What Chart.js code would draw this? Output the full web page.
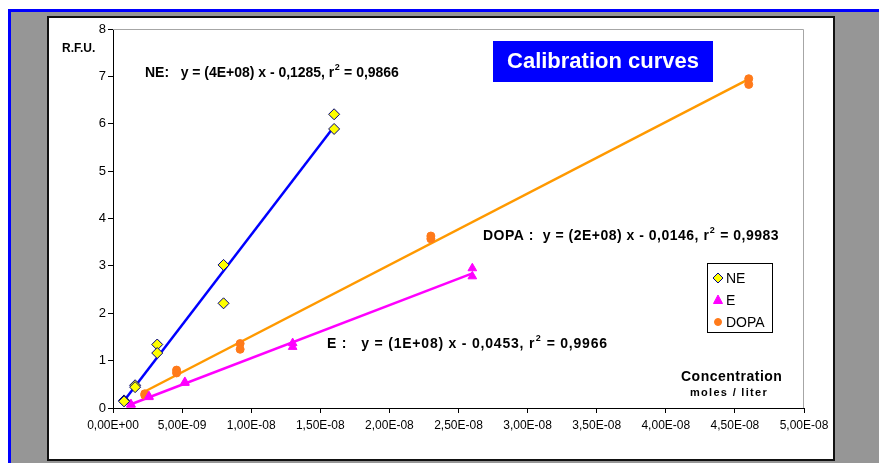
<!DOCTYPE html>
<html>
<head>
<meta charset="utf-8">
<script src="https://cdn.jsdelivr.net/npm/chart.js@4.4.1/dist/chart.umd.min.js"></script>
<style>
  body { margin: 0; background: #fff; }
  #wrap { width: 879px; height: 463px; }
</style>
</head>
<body>
<div id="wrap"><canvas id="calChart" width="879" height="463"></canvas></div>
<script>
// data (x in moles / liter, y in R.F.U.)
var neX   = [0.8e-9, 0.8e-9, 1.6e-9, 1.6e-9, 3.2e-9, 3.2e-9, 8e-9, 8e-9, 1.6e-8, 1.6e-8];
var neY   = [0.16, 0.14, 0.48, 0.44, 1.34, 1.16, 3.02, 2.21, 6.20, 5.89];
var eX    = [1.3e-9, 1.3e-9, 2.6e-9, 2.6e-9, 5.2e-9, 5.2e-9, 1.3e-8, 1.3e-8, 2.6e-8, 2.6e-8];
var eY    = [0.08, 0.07, 0.23, 0.25, 0.55, 0.53, 1.37, 1.29, 2.95, 2.78];
var dopaX = [2.3e-9, 2.3e-9, 4.6e-9, 4.6e-9, 9.2e-9, 9.2e-9, 2.3e-8, 2.3e-8, 4.6e-8, 4.6e-8];
var dopaY = [0.30, 0.27, 0.80, 0.74, 1.36, 1.24, 3.63, 3.57, 6.95, 6.83];

var xTicks      = [0, 5e-9, 1e-8, 1.5e-8, 2e-8, 2.5e-8, 3e-8, 3.5e-8, 4e-8, 4.5e-8, 5e-8];
var xTickLabels = ['0,00E+00','5,00E-09','1,00E-08','1,50E-08','2,00E-08','2,50E-08',
                   '3,00E-08','3,50E-08','4,00E-08','4,50E-08','5,00E-08'];
var yTicks      = [0, 1, 2, 3, 4, 5, 6, 7, 8];

var FONT = "'Liberation Sans', Arial, sans-serif";

function pts(xs, ys) {
    return xs.map(function (x, i) { return { x: x, y: ys[i] }; });
}

// least squares trendline from min x to max x
function trend(xs, ys) {
    var n = xs.length, sx = 0, sy = 0, sxx = 0, sxy = 0;
    for (var i = 0; i < n; i++) {
        sx += xs[i]; sy += ys[i]; sxx += xs[i] * xs[i]; sxy += xs[i] * ys[i];
    }
    var b = (n * sxy - sx * sy) / (n * sxx - sx * sx);
    var a = (sy - b * sx) / n;
    var lo = Math.min.apply(null, xs), hi = Math.max.apply(null, xs);
    return [{ x: lo, y: a + b * lo }, { x: hi, y: a + b * hi }];
}

function marker(ctx, style, x, y, r, fill, stroke) {
    ctx.save();
    ctx.beginPath();
    if (style === 'rectRot') {
        ctx.moveTo(x, y - r); ctx.lineTo(x + r, y); ctx.lineTo(x, y + r); ctx.lineTo(x - r, y);
        ctx.closePath();
    } else if (style === 'triangle') {
        ctx.moveTo(x, y - r); ctx.lineTo(x + r * 0.9, y + r * 0.7); ctx.lineTo(x - r * 0.9, y + r * 0.7);
        ctx.closePath();
    } else {
        ctx.arc(x, y, r, 0, Math.PI * 2);
    }
    ctx.fillStyle = fill; ctx.fill();
    ctx.lineWidth = 1; ctx.strokeStyle = stroke; ctx.stroke();
    ctx.restore();
}

// equation text with a superscript "2" after the r, stretched to a width
function eqText(ctx, pre, post, x, y, targetW) {
    var big = 'bold 14px ' + FONT, small = 'bold 9px ' + FONT;
    ctx.letterSpacing = '0px';
    ctx.font = big;
    var w0 = ctx.measureText(pre).width + ctx.measureText(post).width;
    ctx.font = small;
    w0 += ctx.measureText('2').width + 1;
    var sp = (targetW - w0) / (pre.length + post.length + 1);
    ctx.letterSpacing = sp.toFixed(2) + 'px';
    ctx.font = big;
    ctx.fillText(pre, x, y);
    var w = ctx.measureText(pre).width;
    ctx.font = small;
    ctx.fillText('2', x + w + 0.5, y - 5);
    var w2 = ctx.measureText('2').width;
    ctx.font = big;
    ctx.fillText(post, x + w + w2 + 1, y);
    ctx.letterSpacing = '0px';
}

var pageDecor = {
    id: 'pageDecor',
    beforeDraw: function (chart) {
        var ctx = chart.ctx;
        ctx.save();
        ctx.fillStyle = '#ffffff';
        ctx.fillRect(0, 0, 879, 463);
        ctx.fillStyle = '#0000ff';
        ctx.fillRect(8, 9, 871, 454);
        ctx.fillStyle = '#969696';
        ctx.fillRect(11, 12, 868, 451);
        ctx.fillStyle = '#ffffff';
        ctx.fillRect(48, 17, 786, 443);
        ctx.strokeStyle = '#111';
        ctx.lineWidth = 2;
        ctx.strokeRect(48, 17, 786, 443);
        ctx.restore();
    },
    beforeDatasetsDraw: function (chart) {
        var ctx = chart.ctx, a = chart.chartArea;
        ctx.save();
        ctx.strokeStyle = '#a6a6a6';
        ctx.lineWidth = 1;
        ctx.beginPath();
        ctx.moveTo(a.left, a.top + 0.5);
        ctx.lineTo(a.right - 0.5, a.top + 0.5);
        ctx.lineTo(a.right - 0.5, a.bottom);
        ctx.stroke();
        ctx.restore();
    },
    afterDraw: function (chart) {
        var ctx = chart.ctx;
        ctx.save();
        ctx.fillStyle = '#000';
        ctx.textBaseline = 'middle';
        ctx.textAlign = 'left';

        ctx.font = 'bold 12px ' + FONT;
        ctx.fillText('R.F.U.', 62, 49);

        eqText(ctx, 'NE:   y = (4E+08) x - 0,1285, r', ' = 0,9866', 145, 73, 254);
        eqText(ctx, 'DOPA :  y = (2E+08) x - 0,0146, r', ' = 0,9983', 483, 236, 296);
        eqText(ctx, 'E :   y = (1E+08) x - 0,0453, r', ' = 0,9966', 327, 344, 281);

        ctx.font = 'bold 14px ' + FONT;
        ctx.letterSpacing = '0.5px';
        ctx.fillText('Concentration', 681, 377);
        ctx.font = 'bold 11px ' + FONT;
        ctx.letterSpacing = '1.3px';
        ctx.fillText('moles / liter', 690, 393);
        ctx.letterSpacing = '0px';

        // title box
        ctx.fillStyle = '#0000ff';
        ctx.fillRect(493, 41, 220, 41);
        ctx.fillStyle = '#ffffff';
        ctx.textAlign = 'center';
        ctx.font = 'bold 22px ' + FONT;
        ctx.fillText('Calibration curves', 603, 62);

        // legend
        ctx.textAlign = 'left';
        ctx.fillStyle = '#fff';
        ctx.fillRect(707, 263, 65, 69);
        ctx.strokeStyle = '#000';
        ctx.lineWidth = 1;
        ctx.strokeRect(707.5, 263.5, 65, 69);
        var items = chart.data.datasets.filter(function (d) { return !d.isTrend; });
        items.forEach(function (d, i) {
            var y = 278 + i * 22;
            marker(ctx, d.pointStyle, 718, y, d.legendRadius, d.backgroundColor, d.borderColor);
            ctx.fillStyle = '#000';
            ctx.font = '14px ' + FONT;
            ctx.fillText(d.label, 726, y + 1);
        });
        ctx.restore();
    }
};

var ctxC = document.getElementById('calChart').getContext('2d');
var calChart = new Chart(ctxC, {
    type: 'scatter',
    data: {
        datasets: [
            { label: 'NE', data: pts(neX, neY), pointStyle: 'rectRot', pointRadius: 5.5,
              backgroundColor: '#ffff00', borderColor: '#000080', borderWidth: 1, order: 1, legendRadius: 5 },
            { label: 'E', data: pts(eX, eY), pointStyle: 'triangle', pointRadius: 5,
              backgroundColor: '#ff00ff', borderColor: '#ff00ff', borderWidth: 1, order: 1, legendRadius: 5 },
            { label: 'DOPA', data: pts(dopaX, dopaY), pointStyle: 'circle', pointRadius: 4,
              backgroundColor: '#ff7a1a', borderColor: '#ff7a1a', borderWidth: 1, order: 1, legendRadius: 3.5 },
            { label: 'NE trend', isTrend: true, data: trend(neX, neY), showLine: true, pointRadius: 0,
              borderColor: '#0000ff', borderWidth: 2.5, order: 2 },
            { label: 'E trend', isTrend: true, data: trend(eX, eY), showLine: true, pointRadius: 0,
              borderColor: '#ff00ff', borderWidth: 2.5, order: 2 },
            { label: 'DOPA trend', isTrend: true, data: trend(dopaX, dopaY), showLine: true, pointRadius: 0,
              borderColor: '#ff9900', borderWidth: 2.5, order: 2 }
        ]
    },
    options: {
        responsive: false,
        animation: false,
        layout: { padding: { left: 0, top: 29, right: 75, bottom: 0 } },
        plugins: { legend: { display: false }, tooltip: { enabled: false } },
        scales: {
            x: {
                type: 'linear', min: 0, max: 5e-8,
                afterBuildTicks: function (s) { s.ticks = xTicks.map(function (v) { return { value: v }; }); },
                afterFit: function (s) { s.height = 55; },
                grid: { drawOnChartArea: false, tickLength: 5, color: '#000' },
                border: { color: '#000', width: 1 },
                ticks: {
                    autoSkip: false, maxRotation: 0, padding: 5, color: '#000',
                    font: { family: FONT, size: 12 },
                    callback: function (v, i) { return xTickLabels[i]; }
                }
            },
            y: {
                type: 'linear', min: 0, max: 8,
                afterBuildTicks: function (s) { s.ticks = yTicks.map(function (v) { return { value: v }; }); },
                afterFit: function (s) { s.width = 113; },
                grid: { drawOnChartArea: false, tickLength: 5, color: '#000' },
                border: { color: '#000', width: 1 },
                ticks: {
                    padding: 2, color: '#000',
                    font: { family: FONT, size: 13 },
                    callback: function (v) { return String(v); }
                }
            }
        }
    },
    plugins: [pageDecor]
});
</script>
</body>
</html>
